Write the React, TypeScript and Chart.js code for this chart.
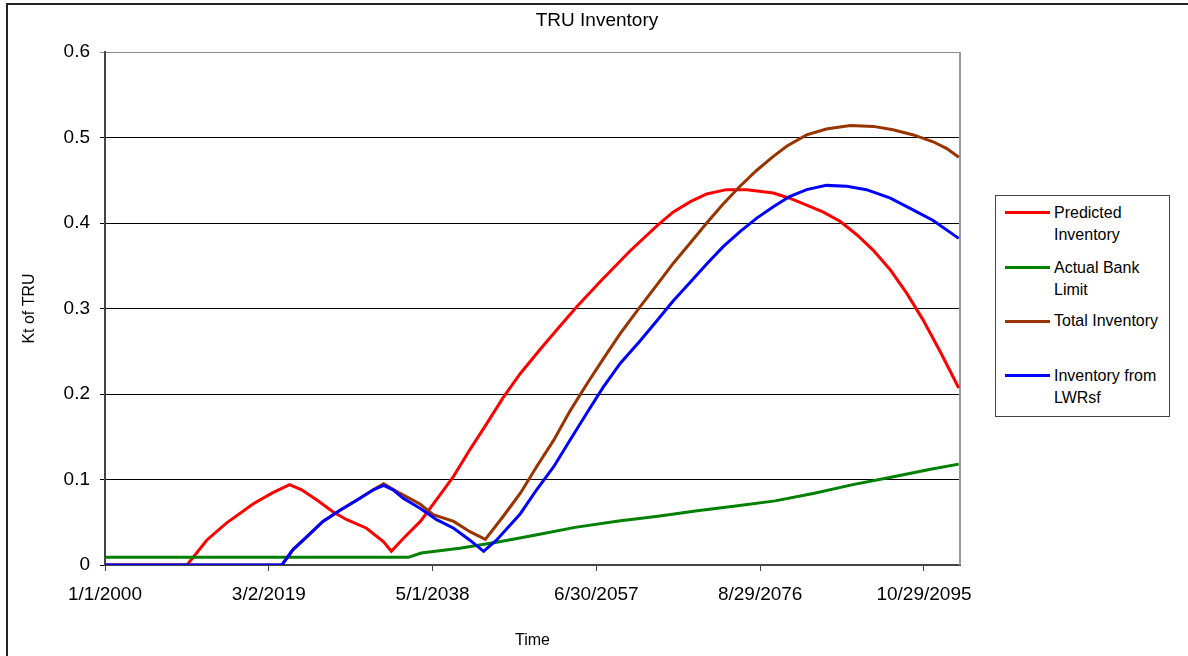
import React, { useEffect, useRef } from "react";
import { Chart, registerables } from "chart.js";

Chart.register(...registerables);

const chartTitle = "TRU Inventory";
const xAxisTitle = "Time";
const yAxisTitle = "Kt of TRU";

const xTickDays = [0, 7000, 14000, 21000, 28000, 35000];
const xTickLabels = ["1/1/2000", "3/2/2019", "5/1/2038", "6/30/2057", "8/29/2076", "10/29/2095"];
const xMaxDays = 36540;
const yTickLabels = ["0", "0.1", "0.2", "0.3", "0.4", "0.5", "0.6"];

const seriesNames = [["Predicted", "Inventory"], ["Actual Bank", "Limit"], ["Total Inventory"], ["Inventory from", "LWRsf"]];
const seriesColors = ["#ff0000", "#008000", "#993300", "#0000ff"];

const predictedYears = [2000, 2009.6, 2011.9, 2014.2, 2017.4, 2019.7, 2021.6, 2023.0, 2024.8, 2026.7, 2028.3, 2030.6, 2032.6, 2033.5, 2034.9, 2036.9, 2039.2, 2040.8, 2042.7, 2044.7, 2046.6, 2048.6, 2050.9, 2053.2, 2055.2, 2057.9, 2061.4, 2064.6, 2066.5, 2068.5, 2070.4, 2072.7, 2075.1, 2078.2, 2080.1, 2082.1, 2084.0, 2086.0, 2088.0, 2089.9, 2091.9, 2093.8, 2095.7, 2097.7, 2099.9];
const predictedValues = [0, 0, 0.029, 0.049, 0.072, 0.085, 0.094, 0.088, 0.076, 0.062, 0.053, 0.043, 0.027, 0.016, 0.031, 0.051, 0.082, 0.104, 0.135, 0.166, 0.196, 0.224, 0.252, 0.279, 0.302, 0.331, 0.367, 0.397, 0.413, 0.425, 0.434, 0.439, 0.439, 0.435, 0.429, 0.421, 0.413, 0.402, 0.386, 0.368, 0.345, 0.318, 0.287, 0.250, 0.207];

const bankYears = [2000, 2035.5, 2037.0, 2041.5, 2046.0, 2050.4, 2055.0, 2060.1, 2064.7, 2069.3, 2073.8, 2078.4, 2083.0, 2087.5, 2092.1, 2096.6, 2099.9];
const bankValues = [0.009, 0.009, 0.014, 0.0195, 0.027, 0.035, 0.044, 0.0515, 0.057, 0.0635, 0.069, 0.075, 0.084, 0.094, 0.103, 0.112, 0.118];

const totalYears = [2000, 2020.7, 2022.0, 2023.6, 2025.5, 2027.5, 2029.5, 2031.4, 2032.6, 2034.5, 2036.9, 2038.4, 2040.8, 2042.7, 2044.5, 2046.6, 2048.6, 2050.5, 2052.5, 2054.4, 2056.4, 2058.3, 2060.3, 2062.6, 2064.6, 2066.5, 2068.5, 2070.4, 2072.3, 2074.3, 2076.3, 2078.2, 2079.8, 2082.1, 2084.4, 2087.2, 2089.9, 2092.2, 2094.6, 2096.9, 2098.5, 2099.9];
const totalValues = [0, 0, 0.018, 0.033, 0.051, 0.064, 0.076, 0.088, 0.095, 0.084, 0.071, 0.059, 0.051, 0.039, 0.030, 0.057, 0.084, 0.115, 0.146, 0.180, 0.212, 0.241, 0.271, 0.302, 0.328, 0.353, 0.377, 0.400, 0.422, 0.443, 0.462, 0.478, 0.490, 0.503, 0.510, 0.514, 0.513, 0.509, 0.503, 0.495, 0.487, 0.477];

const lwrYears = [2000, 2020.7, 2022.0, 2023.6, 2025.5, 2027.5, 2029.5, 2031.4, 2032.6, 2033.7, 2034.9, 2036.9, 2038.8, 2040.8, 2042.7, 2044.3, 2045.8, 2048.6, 2050.5, 2052.5, 2054.4, 2056.4, 2058.3, 2060.3, 2062.6, 2064.6, 2066.5, 2068.5, 2070.4, 2072.3, 2074.3, 2076.3, 2078.2, 2080.1, 2082.1, 2084.4, 2086.8, 2089.1, 2091.9, 2094.6, 2096.9, 2099.9];
const lwrValues = [0, 0, 0.018, 0.033, 0.051, 0.064, 0.076, 0.088, 0.093, 0.088, 0.078, 0.066, 0.053, 0.043, 0.029, 0.016, 0.029, 0.060, 0.088, 0.115, 0.146, 0.178, 0.208, 0.236, 0.262, 0.286, 0.309, 0.331, 0.352, 0.372, 0.390, 0.406, 0.419, 0.431, 0.439, 0.444, 0.443, 0.439, 0.429, 0.415, 0.403, 0.382];

const FONT = '"Liberation Sans", Arial, sans-serif';

const toPoints = (years: number[], values: number[]) =>
  years.map((y, i) => ({ x: Math.round((y - 2000) * 365.25), y: values[i] }));

const plotBorder = {
  id: "plotBorder",
  beforeDatasetsDraw(chart: any) {
    const { ctx, chartArea } = chart;
    ctx.save();
    ctx.strokeStyle = "#9a9a9a";
    ctx.lineWidth = 2;
    ctx.beginPath();
    ctx.moveTo(chartArea.right, chartArea.top);
    ctx.lineTo(chartArea.right, chartArea.bottom);
    ctx.stroke();
    ctx.restore();
  },
};

const legendLineCenters = [212.5, 267.5, 321, 375.5];

export default function App() {
  const canvasRef = useRef<HTMLCanvasElement | null>(null);

  useEffect(() => {
    if (!canvasRef.current) return;
    const seriesData = [
      toPoints(predictedYears, predictedValues),
      toPoints(bankYears, bankValues),
      toPoints(totalYears, totalValues),
      toPoints(lwrYears, lwrValues),
    ];
    const chart = new Chart(canvasRef.current, {
      type: "line",
      data: {
        datasets: seriesData.map((d, i) => ({
          label: seriesNames[i].join(" "),
          data: d,
          borderColor: seriesColors[i],
          backgroundColor: seriesColors[i],
          borderWidth: 3,
          pointRadius: 0,
          tension: 0,
          fill: false,
          order: 3 - i,
        })),
      },
      options: {
        animation: false,
        responsive: false,
        layout: { padding: { top: 52, right: 228, left: 0, bottom: 0 } },
        plugins: {
          legend: { display: false },
          title: { display: false },
          tooltip: { enabled: false },
        },
        scales: {
          x: {
            type: "linear",
            min: 0,
            max: xMaxDays,
            afterBuildTicks: (s: any) => {
              s.ticks = xTickDays.map((v) => ({ value: v }));
            },
            afterFit: (s: any) => {
              s.height = 91;
            },
            ticks: {
              autoSkip: false,
              maxRotation: 0,
              padding: 12,
              color: "#000",
              font: { family: FONT, size: 19 },
              callback: (_v: any, i: number) => xTickLabels[i],
            },
            grid: { drawOnChartArea: false, drawTicks: true, tickLength: 6, color: "#444", lineWidth: 1 },
            border: { display: true, color: "#444", width: 2 },
            title: {
              display: true,
              text: xAxisTitle,
              color: "#000",
              font: { family: FONT, size: 16 },
              padding: { top: 0, bottom: 6 },
            },
          },
          y: {
            type: "linear",
            min: 0,
            max: 0.6,
            afterFit: (s: any) => {
              s.width = 105;
            },
            ticks: {
              stepSize: 0.1,
              padding: 10,
              color: "#000",
              font: { family: FONT, size: 19 },
              callback: (_v: any, i: number) => yTickLabels[i],
            },
            grid: {
              color: (ctx: any) => (ctx.index === yTickLabels.length - 1 ? "#8c8c8c" : "#000"),
              lineWidth: 1,
              tickLength: 5,
              drawTicks: true,
            },
            border: { display: true, color: "#444", width: 2 },
            title: {
              display: true,
              text: yAxisTitle,
              color: "#000",
              font: { family: FONT, size: 16 },
              padding: { top: 20, bottom: 0 },
            },
          },
        },
      },
      plugins: [plotBorder],
    } as any);
    return () => chart.destroy();
  }, []);

  return (
    <div
      style={{
        position: "fixed",
        left: 0,
        top: 0,
        width: 1188,
        height: 656,
        overflow: "hidden",
        background: "#fff",
        fontFamily: FONT,
      }}
    >
      <div
        style={{
          position: "absolute",
          left: 6,
          top: 3,
          width: 1300,
          height: 800,
          border: "2px solid #222",
        }}
      />
      <canvas
        ref={canvasRef}
        width={1188}
        height={656}
        style={{ position: "absolute", left: 0, top: 0, width: 1188, height: 656 }}
      />
      <div
        style={{
          position: "absolute",
          left: 0,
          top: 9,
          width: 1194,
          textAlign: "center",
          fontSize: 19,
          lineHeight: "22px",
          color: "#000",
        }}
      >
        {chartTitle}
      </div>
      <div
        style={{
          position: "absolute",
          left: 995,
          top: 195,
          width: 175,
          height: 222,
          boxSizing: "border-box",
          border: "1px solid #444",
          background: "#fff",
        }}
      />
      {seriesNames.map((lines, i) => (
        <React.Fragment key={i}>
          <div
            style={{
              position: "absolute",
              left: 1005,
              top: legendLineCenters[i] - 1.5,
              width: 45,
              height: 3,
              background: seriesColors[i],
            }}
          />
          <div
            style={{
              position: "absolute",
              left: 1054,
              top: legendLineCenters[i] - 11,
              fontSize: 16,
              lineHeight: "22.5px",
              color: "#000",
              whiteSpace: "nowrap",
            }}
          >
            {lines.map((t, j) => (
              <div key={j}>{t}</div>
            ))}
          </div>
        </React.Fragment>
      ))}
    </div>
  );
}
